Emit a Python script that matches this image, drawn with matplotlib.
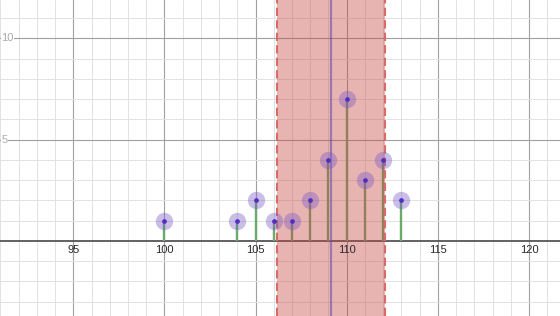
import numpy as np
import matplotlib
matplotlib.use("Agg")
import matplotlib.pyplot as plt

# observed values and how often each occurs
values = [100, 104, 105, 106, 107, 108, 109, 110, 111, 112, 113]
counts = [1, 1, 2, 1, 1, 2, 4, 7, 3, 4, 2]

x_ticks = [95, 100, 105, 110, 115, 120]
y_ticks = [5, 10]

xs = np.array(values, dtype=float)
ws = np.array(counts, dtype=float)
mean = np.sum(xs * ws) / ws.sum()
sd = np.sqrt(np.sum(ws * (xs - mean) ** 2) / (ws.sum() - 1))

fig = plt.figure(figsize=(5.6, 3.16), dpi=100)
ax = fig.add_axes([0, 0, 1, 1])
ax.set_xlim(90.98, 121.7)
ax.set_ylim(-3.71, 11.9)
ax.set_axis_off()

# grid
for gx in range(91, 122):
    major = gx % 5 == 0
    ax.axvline(gx, color="#a0a0a0" if major else "#e2e2e2", lw=0.8 if major else 0.7, zorder=0)
for gy in range(-3, 12):
    if gy == 0:
        continue
    major = gy % 5 == 0
    ax.axhline(gy, color="#a0a0a0" if major else "#e2e2e2", lw=0.8 if major else 0.7, zorder=0)
ax.axhline(0, color="#555555", lw=1.3, zorder=1)

# stems
for v, c in zip(values, counts):
    ax.plot([v, v], [0, c], color="#6aaa6a", lw=1.7, zorder=2, solid_capstyle="butt")

# one standard deviation band
ax.axvspan(mean - sd, mean + sd, color="#c74440", alpha=0.4, lw=0, zorder=3)
for b in (mean - sd, mean + sd):
    ax.axvline(b, color="#d96a66", lw=1.5, ls=(0, (4, 2)), zorder=4)
ax.axvline(mean, color="#6a52a8", lw=1.6, alpha=0.6, zorder=4)

# points
ax.plot(values, counts, "o", ms=12.5, color="#7b5cc4", alpha=0.4, mec="none", zorder=5)
ax.plot(values, counts, "o", ms=3.4, color="#5030c0", mec="none", zorder=6)

# tick labels
for t in x_ticks:
    ax.text(t, -0.2, str(t), ha="center", va="top", fontsize=8,
            family="Liberation Sans", color="#2a2a2a", zorder=7)
for t in y_ticks:
    ax.text(91.06, t, str(t), ha="left", va="center", fontsize=8,
            family="Liberation Sans", color="#aaaaaa", zorder=7,
            bbox=dict(facecolor="white", edgecolor="none", pad=0.5))

fig.savefig("out.png", dpi=100)
